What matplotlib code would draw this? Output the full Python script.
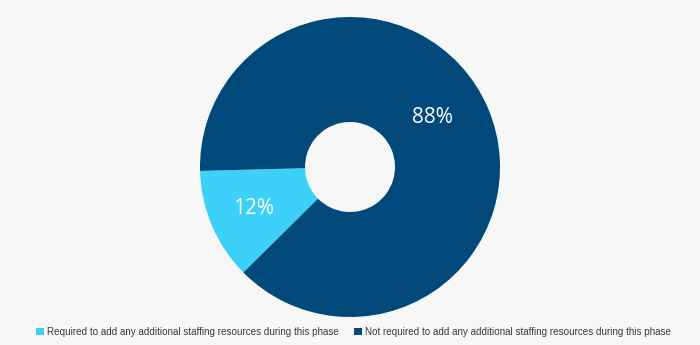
import matplotlib
matplotlib.use("Agg")
import matplotlib.pyplot as plt
from matplotlib.patches import Patch
import numpy as np

categories = ["Required to add any additional staffing resources during this phase",
              "Not required to add any additional staffing resources during this phase"]
values = [12, 88]
colors = ["#3dd0f8", "#00497a"]
bg = "#f7f7f7"

fig = plt.figure(figsize=(7, 3.45), dpi=100, facecolor=bg)
ax = fig.add_axes([200/700, 28/345, 300/700, 300/345])
ax.set_facecolor(bg)

wedges, texts, autotexts = ax.pie(
    values, colors=colors, startangle=181.5, counterclock=True,
    radius=1.0, wedgeprops=dict(width=0.7, edgecolor="none"),
    autopct=lambda p: f"{p:.0f}%", pctdistance=0.70,
    textprops=dict(color="white", fontsize=15, family="Open Sans"))
# nudge the large-slice label to match the reference placement
ang = np.deg2rad(31)
autotexts[1].set_position((0.64*np.cos(ang), 0.64*np.sin(ang)))
ax.set_xlim(-1, 1)
ax.set_ylim(-1, 1)
ax.set_aspect("equal")
ax.axis("off")

handles = [Patch(facecolor=c, edgecolor="none") for c in colors]
fig.legend(handles, categories, loc="center", bbox_to_anchor=(0.505, 13/345), ncol=2,
           frameon=False, prop=dict(family="Liberation Sans", size=7.1),
           handlelength=0.75, handleheight=0.75, handletextpad=0.3, columnspacing=1.6,
           labelcolor="#3a3a3a")

fig.savefig("out.png", dpi=100, facecolor=bg)
